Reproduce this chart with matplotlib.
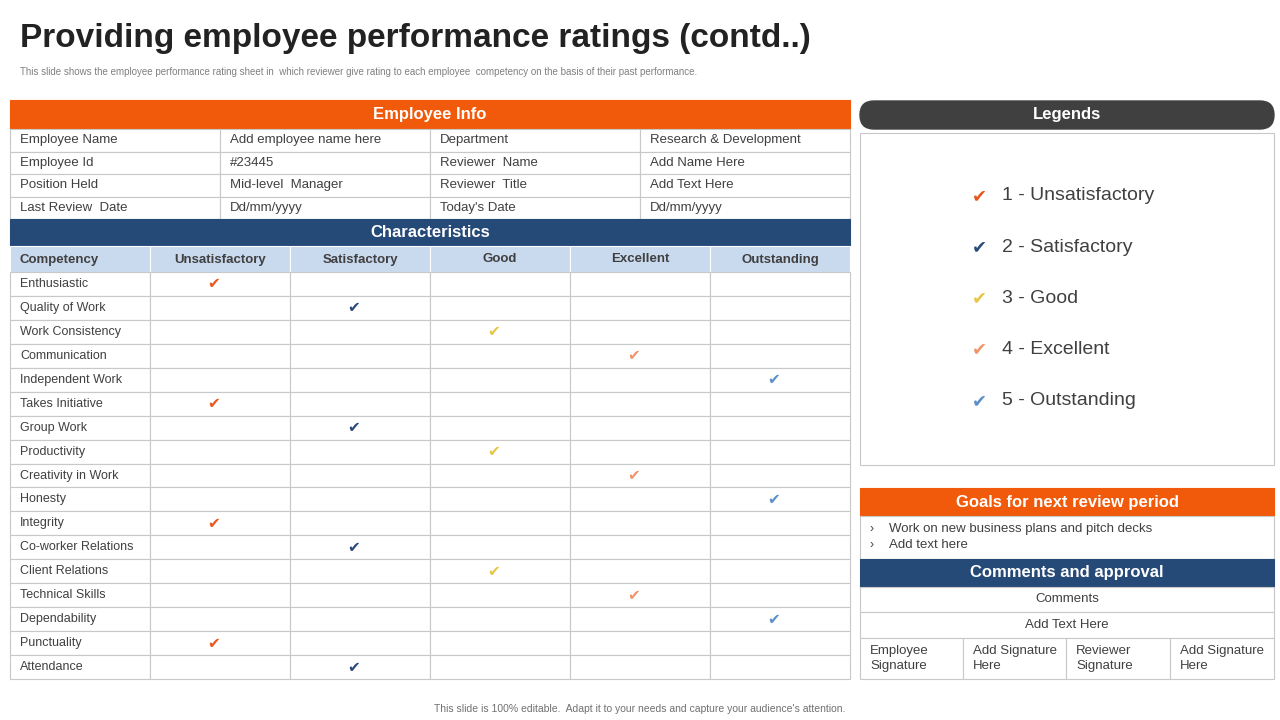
import matplotlib.pyplot as plt
from matplotlib.patches import Rectangle, FancyBboxPatch

plt.rcParams["font.family"] = "Liberation Sans"

# Data
info_rows = [
    ["Employee Name", "Add employee name here", "Department", "Research & Development"],
    ["Employee Id", "#23445", "Reviewer  Name", "Add Name Here"],
    ["Position Held", "Mid-level  Manager", "Reviewer  Title", "Add Text Here"],
    ["Last Review  Date", "Dd/mm/yyyy", "Today's Date", "Dd/mm/yyyy"],
]
rating_names = ["Unsatisfactory", "Satisfactory", "Good", "Excellent", "Outstanding"]
competencies = ["Enthusiastic", "Quality of Work", "Work Consistency", "Communication",
                "Independent Work", "Takes Initiative", "Group Work", "Productivity",
                "Creativity in Work", "Honesty", "Integrity", "Co-worker Relations",
                "Client Relations", "Technical Skills", "Dependability", "Punctuality",
                "Attendance"]
ratings = [1, 2, 3, 4, 5, 1, 2, 3, 4, 5, 1, 2, 3, 4, 5, 1, 2]
goals = ["Work on new business plans and pitch decks", "Add text here"]

ORANGE = "#F05A0A"
NAVY = "#264a78"
LIGHT = "#c9d9ee"
GRID = "#c8c8c8"
TXT = "#404040"
check_colors = ["#E8561E", "#2A4B7C", "#E8C547", "#F0956A", "#5B8FC9"]

fig = plt.figure(figsize=(12.8, 7.2), dpi=100)
ax = fig.add_axes([0, 0, 1, 1])
ax.set_xlim(0, 1280)
ax.set_ylim(720, 0)
ax.axis("off")


def cell(x0, y0, x1, y1, fc="white", ec=GRID, lw=0.8):
    ax.add_patch(Rectangle((x0, y0), x1 - x0, y1 - y0, facecolor=fc, edgecolor=ec, lw=lw))


def header(x0, y0, x1, y1, label, fc):
    cell(x0, y0, x1, y1, fc=fc, ec=fc)
    ax.text((x0 + x1) / 2, (y0 + y1) / 2, label, color="white", fontsize=12,
            fontweight="bold", ha="center", va="center")


# Title
ax.text(20, 38, "Providing employee performance ratings (contd..)", fontsize=24,
        fontweight="bold", color="#222222", va="center")
ax.text(20, 72, "This slide shows the employee performance rating sheet in  which reviewer give rating to each employee  competency on the basis of their past performance.",
        fontsize=7, color="#808080", va="center")
ax.text(640, 709, "This slide is 100% editable.  Adapt it to your needs and capture your audience's attention.",
        fontsize=7.5, color="#707070", ha="center", va="center")

# Employee info
header(10, 100, 850, 129, "Employee Info", ORANGE)
icols = [10, 220, 430, 640, 850]
rh = (219 - 129) / 4
for r, row in enumerate(info_rows):
    y0 = 129 + r * rh
    for c, val in enumerate(row):
        cell(icols[c], y0, icols[c + 1], y0 + rh)
        ax.text(icols[c] + 10, y0 + rh / 2, val, fontsize=9.5, color=TXT, va="center")

# Characteristics
header(10, 219, 850, 246, "Characteristics", NAVY)
ccols = [10, 150, 290, 430, 570, 710, 850]
heads = ["Competency"] + rating_names
for c, h in enumerate(heads):
    cell(ccols[c], 246, ccols[c + 1], 272, fc=LIGHT, ec="white")
    x = ccols[c] + 10 if c == 0 else (ccols[c] + ccols[c + 1]) / 2
    ax.text(x, 259.5, h, fontsize=9.5, fontweight="bold", color=TXT,
            ha="left" if c == 0 else "center", va="center")
crh = (679 - 272) / len(competencies)
for r, (name, rt) in enumerate(zip(competencies, ratings)):
    y0 = 272 + r * crh
    for c in range(6):
        cell(ccols[c], y0, ccols[c + 1], y0 + crh)
    ax.text(20, y0 + crh / 2, name, fontsize=9, color=TXT, va="center")
    ax.text((ccols[rt] + ccols[rt + 1]) / 2 - 6, y0 + crh / 2, "\u2714", fontsize=11,
            color=check_colors[rt - 1], ha="center", va="center", family="DejaVu Sans")

# Legends
ax.add_patch(FancyBboxPatch((860, 101), 414, 28, boxstyle="round,pad=0,rounding_size=14",
                            facecolor="#404040", edgecolor="#404040"))
ax.text(1067, 115, "Legends", color="white", fontsize=12, fontweight="bold",
        ha="center", va="center")
cell(860, 133, 1274, 465)
for i, nm in enumerate(rating_names):
    y = 196 + i * 51.2
    ax.text(979, y, "\u2714", fontsize=13, color=check_colors[i], ha="center", va="center",
            family="DejaVu Sans")
    ax.text(1002, y, f"{i + 1} - {nm}", fontsize=14, color=TXT, va="center")

# Goals
header(860, 488, 1274, 516, "Goals for next review period", ORANGE)
cell(860, 516, 1274, 559)
for i, g in enumerate(goals):
    y = 529 + i * 16
    ax.text(870, y, "\u203a", fontsize=9, color=TXT, va="center")
    ax.text(889, y, g, fontsize=9.5, color=TXT, va="center")

# Comments
header(860, 559, 1274, 587, "Comments and approval", NAVY)
cell(860, 587, 1274, 612)
ax.text(1067, 599.5, "Comments", fontsize=9.5, color=TXT, ha="center", va="center")
cell(860, 612, 1274, 638)
ax.text(1067, 625, "Add Text Here", fontsize=9.5, color=TXT, ha="center", va="center")
scols = [860, 963, 1066, 1170, 1274]
sig = ["Employee\nSignature", "Add Signature\nHere", "Reviewer\nSignature", "Add Signature\nHere"]
for c, s in enumerate(sig):
    cell(scols[c], 638, scols[c + 1], 679)
    ax.text(scols[c] + 10, 658.5, s, fontsize=9.5, color=TXT, va="center", linespacing=1.3)

fig.savefig("out.png", dpi=100)
